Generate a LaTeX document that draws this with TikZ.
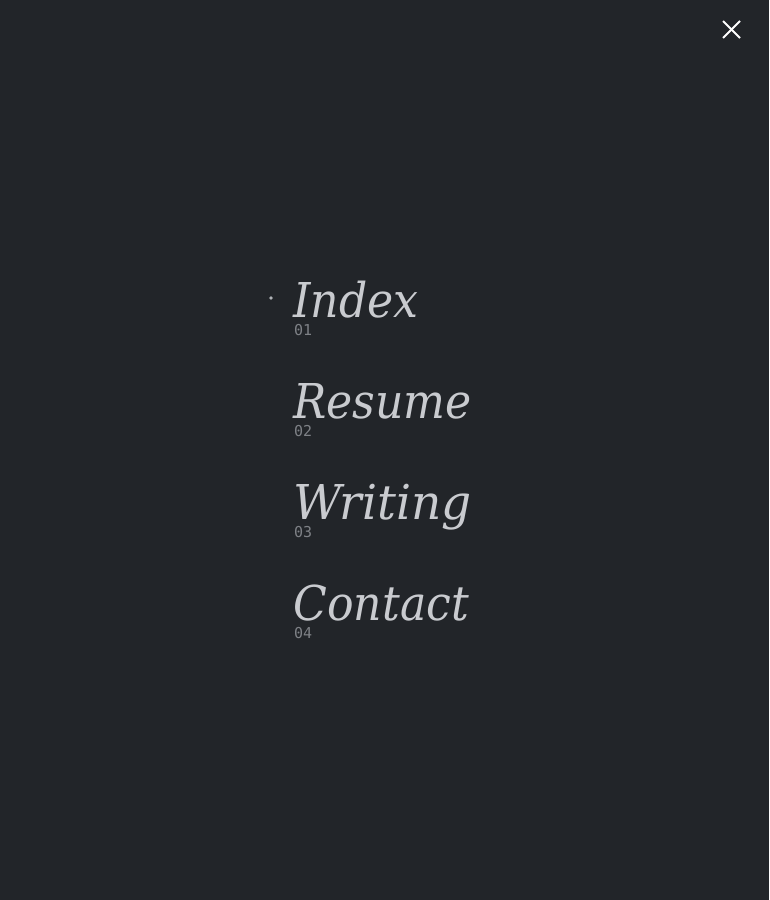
\documentclass[tikz,border=0pt]{standalone}
\usepackage{fontspec}
\setmainfont{DejaVu Serif}
\newfontfamily\navfont{DejaVu Serif}
\newfontfamily\numfont{DejaVu Sans Mono}
\definecolor{bgcol}{HTML}{222529}
\definecolor{titlecol}{HTML}{C9CBCF}
\definecolor{numcol}{HTML}{7E8186}
\definecolor{dotcol}{HTML}{B0B3B7}
\newcommand{\navtext}[2][0.92]{\scalebox{#1}[1]{#2}}
\begin{document}
\begin{tikzpicture}[x=1pt,y=-1pt,
  navitem/.style={anchor=base west,inner sep=0pt,outer sep=0pt,text depth=0pt,text=titlecol,font=\navfont\itshape\fontsize{48}{48}\selectfont},
  navnum/.style={anchor=base west,inner sep=0pt,outer sep=0pt,text height=8pt,text depth=0pt,text=numcol,font=\numfont\fontsize{15}{15}\selectfont},
  closeline/.style={draw=white,line width=2pt}]
\fill[bgcol] (0,0) rectangle (769,900);
\useasboundingbox (0,0) rectangle (769,900);
% close icon
\coordinate (c1) at (723,21);
\coordinate (c2) at (740,38);
\coordinate (c3) at (740,21);
\coordinate (c4) at (723,38);
\draw[closeline] (c1) -- (c2);
\draw[closeline] (c3) -- (c4);
% active dot
\coordinate (dot) at (271,298);
\fill[dotcol] (dot) circle (1.9);
% menu
\node[navitem] (index) at (293.5,317) {\navtext{Index}};
\node[navnum] (n1) at (294,335) {01};
\node[navitem] (resume) at (293.5,418) {\navtext{Resume}};
\node[navnum] (n2) at (294,436) {02};
\node[navitem] (writing) at (293.5,519) {\navtext[0.98]{Writing}};
\node[navnum] (n3) at (294,537) {03};
\node[navitem] (contact) at (293.5,620) {\navtext{Contact}};
\node[navnum] (n4) at (294,638) {04};
\end{tikzpicture}
\end{document}
